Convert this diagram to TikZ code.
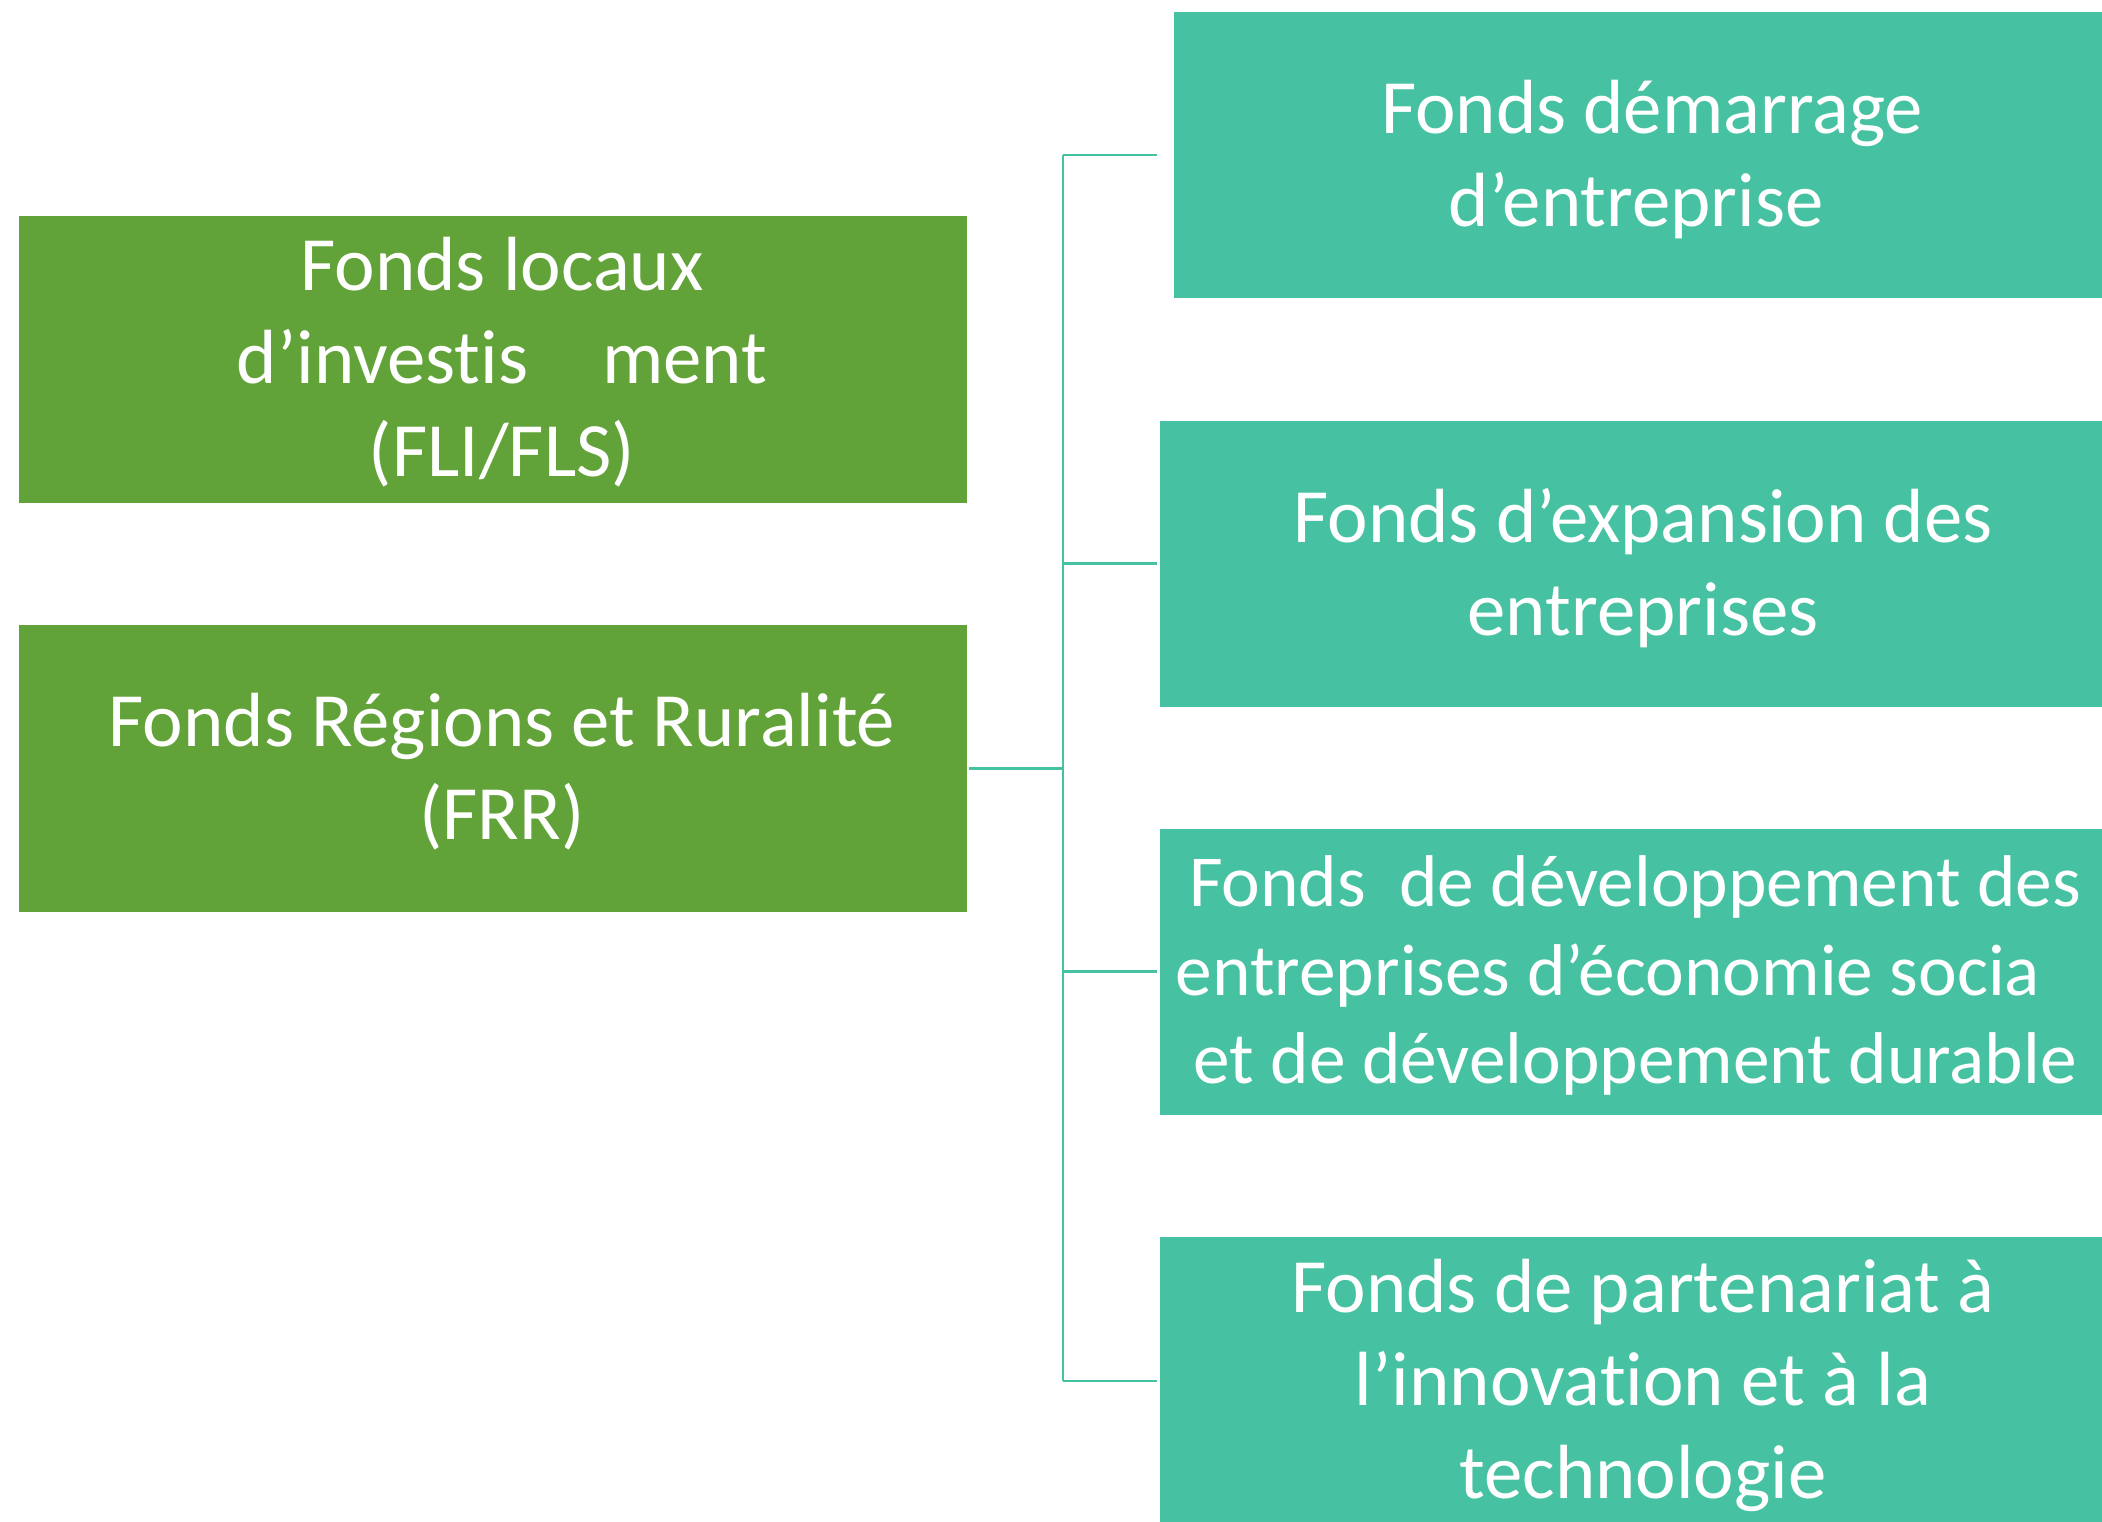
\documentclass[tikz,border=0pt]{standalone}
\usepackage{fontspec}
\setmainfont{Carlito}[Ligatures=NoCommon]
\definecolor{leafgreen}{HTML}{62A339}
\definecolor{teal}{HTML}{46C2A2}
\begin{document}
\begin{tikzpicture}[x=1pt,y=-1pt,
  boxbase/.style={inner sep=0pt, outer sep=0pt},
  gbox/.style={boxbase, fill=leafgreen, minimum width=948pt, minimum height=287pt},
  tbox/.style={boxbase, fill=teal, minimum height=286pt},
  lbl/.style={inner sep=0pt, text=white, align=center,
    font=\fontsize{76.8}{93}\selectfont},
  smalllbl/.style={lbl, font=\fontsize{73.3}{88.5}\selectfont},
  conn/.style={draw=teal, line width=2.5pt}]
\useasboundingbox (0,0) rectangle (2102,1522);
% left boxes
\node[gbox] (l1) at (493,359.5) {};
\node[gbox] (l2) at (493,768.5) {};
\node[lbl] (l1t) at ([shift={(9,3)}]l1.center) {Fonds locaux\\d’investis\hspace{74pt}ment\\(FLI/FLS)};
\node[lbl] (l2t) at ([shift={(9,3)}]l2.center) {Fonds Régions et Ruralité\\(FRR)};
% right boxes
\node[tbox, minimum width=928pt] (r1) at (1638,155) {};
\node[tbox, minimum width=942pt] (r2) at (1631,563.5) {};
\node[tbox, minimum width=942pt] (r3) at (1631,971.5) {};
\node[tbox, minimum width=942pt] (r4) at (1631,1380) {};
\node[lbl] (r1t) at ([shift={(14,5)}]r1.center) {Fonds démarrage\\d’entreprise\rule{32pt}{0pt}};
\node[lbl] (r2t) at ([shift={(12,5)}]r2.center) {Fonds d’expansion des\\entreprises};
\node[smalllbl] (r3t) at ([shift={(4,4)}]r3.center) {Fonds\ \ de développement des\\entreprises d’économie socia\rule{54pt}{0pt}\\et de développement durable};
\node[lbl] (r4t) at ([shift={(12,5)}]r4.center) {Fonds de partenariat à\\l’innovation et à la\\technologie};
% connectors
\coordinate (jt) at (1063,155);
\coordinate (jb) at (1063,1381);
\coordinate (e1) at (1157,155);
\coordinate (e2) at (1157,563.5);
\coordinate (e3) at (1157,971.5);
\coordinate (e4) at (1157,1381);
\draw[conn] (jt) -- (jb);
\draw[conn] ([xshift=2pt]l2.east) -- (l2.east -| jt);
\draw[conn] (jt) -- (e1);
\draw[conn] (jt |- e2) -- (e2);
\draw[conn] (jt |- e3) -- (e3);
\draw[conn] (jb) -- (e4);
\end{tikzpicture}
\end{document}
